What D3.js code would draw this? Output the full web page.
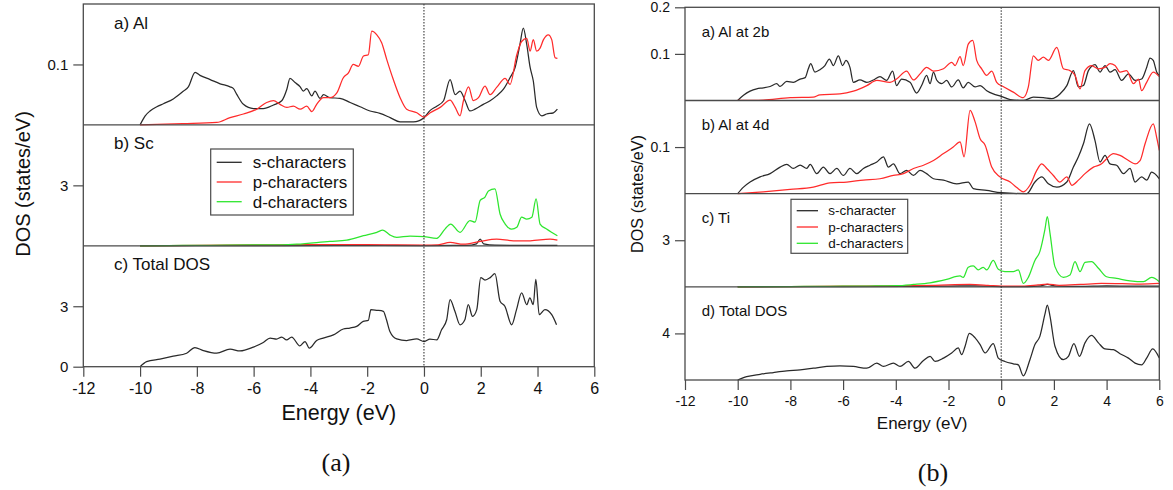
<!DOCTYPE html>
<html><head><meta charset="utf-8">
<script src="https://cdn.jsdelivr.net/npm/d3@7"></script>
<style>
body{margin:0;background:#fff}
svg{display:block}
text{font-family:"Liberation Sans",Arial,Helvetica,sans-serif;fill:#111}
.serif{font-family:"Liberation Serif","Times New Roman",serif}
</style>
</head><body>
<svg id="c" width="1173" height="490"></svg>
<script>
// ---------------- Data: (energy eV, DOS) pairs ----------------
const energyTicks = [-12,-10,-8,-6,-4,-2,0,2,4,6];
const legendLeft  = ["s-characters","p-characters","d-characters"];
const legendRight = ["s-character","p-characters","d-characters"];
const labelsLeft  = ["a) Al","b) Sc","c) Total DOS"];
const labelsRight = ["a) Al at 2b","b) Al at 4d","c) Ti","d) Total DOS"];

// Figure (a)
const aAlS = [[-10,0],[-9.82,0.015],[-9.65,0.023],[-9.41,0.030],[-9.18,0.035],[-8.83,0.043],[-8.47,0.056],[-8.30,0.063],[-8.06,0.087],[-7.89,0.082],[-7.53,0.075],[-7.18,0.068],[-6.83,0.063],[-6.71,0.060],[-6.60,0.051],[-6.36,0.034],[-6.01,0.027],[-5.66,0.027],[-5.30,0.033],[-5.01,0.040],[-4.83,0.059],[-4.72,0.077],[-4.54,0.070],[-4.36,0.063],[-4.25,0.056],[-4.13,0.060],[-3.95,0.048],[-3.84,0.056],[-3.66,0.044],[-3.54,0.050],[-3.31,0.045],[-2.96,0.044],[-2.60,0.037],[-2.25,0.030],[-1.90,0.023],[-1.55,0.019],[-1.19,0.012],[-0.84,0.005],[-0.37,0.005],[0,0.012],[0.22,0.024],[0.45,0.031],[0.69,0.040],[0.92,0.075],[1.10,0.050],[1.27,0.056],[1.45,0.040],[1.62,0.023],[1.80,0.026],[2.09,0.034],[2.33,0.040],[2.56,0.048],[2.80,0.059],[3.03,0.078],[3.21,0.095],[3.38,0.133],[3.50,0.160],[3.62,0.133],[3.74,0.095],[3.85,0.073],[3.97,0.029],[4.15,0.015],[4.32,0.018],[4.56,0.020],[4.70,0.026]];
const aAlP = [[-10,0],[-8.5,0.002],[-7.30,0.004],[-6.83,0.012],[-6.36,0.018],[-5.89,0.026],[-5.54,0.037],[-5.30,0.040],[-5.07,0.034],[-4.83,0.029],[-4.60,0.031],[-4.36,0.026],[-4.13,0.031],[-3.95,0.022],[-3.78,0.034],[-3.54,0.045],[-3.31,0.045],[-3.07,0.053],[-2.84,0.078],[-2.66,0.086],[-2.49,0.100],[-2.31,0.097],[-2.13,0.114],[-1.96,0.116],[-1.84,0.155],[-1.66,0.149],[-1.49,0.136],[-1.31,0.108],[-1.08,0.075],[-0.84,0.045],[-0.61,0.026],[-0.25,0.020],[0,0.013],[0.22,0.020],[0.57,0.029],[0.92,0.041],[1.10,0.029],[1.27,0.015],[1.39,0.040],[1.57,0.063],[1.74,0.040],[1.92,0.045],[2.15,0.064],[2.33,0.050],[2.56,0.062],[2.86,0.077],[3.03,0.067],[3.27,0.116],[3.44,0.138],[3.62,0.143],[3.74,0.122],[3.85,0.141],[3.97,0.122],[4.09,0.127],[4.21,0.141],[4.38,0.149],[4.50,0.141],[4.62,0.111],[4.70,0.110]];
const aScS = [[-10,0],[-6,0.01],[-3,0.02],[0,0.01],[1.5,0.02],[1.85,0.1],[1.98,0.33],[2.1,0.1],[2.5,0.03],[4.7,0.02]];
const aScP = [[-10,0],[-8,0.02],[-6,0.04],[-4,0.06],[-2,0.06],[-1,0.04],[0,0.03],[0.5,0.05],[0.92,0.17],[1.39,0.08],[1.98,0.22],[2.56,0.33],[3.15,0.25],[3.74,0.25],[4.44,0.33],[4.70,0.28]];
const aScD = [[-10,0],[-9,0.01],[-8,0.02],[-7,0.03],[-6,0.04],[-5,0.05],[-4.48,0.08],[-3.31,0.22],[-2.72,0.28],[-2.13,0.50],[-1.66,0.67],[-1.45,0.78],[-1.19,0.53],[-0.96,0.42],[-0.49,0.48],[0,0.45],[0.45,0.37],[0.74,0.83],[0.94,1.08],[1.27,0.67],[1.62,1.25],[1.80,1.17],[1.98,2.25],[2.15,2.42],[2.27,2.72],[2.50,2.83],[2.68,1.58],[2.86,1.08],[3.09,0.83],[3.27,0.92],[3.44,1.42],[3.62,1.33],[3.80,1.42],[3.95,2.33],[4.09,1.08],[4.32,0.83],[4.70,0.50]];
const aTotal = [[-10,0],[-9.77,0.25],[-9.30,0.38],[-8.83,0.52],[-8.36,0.67],[-8.07,0.95],[-7.77,0.80],[-7.30,0.67],[-6.83,0.87],[-6.48,0.78],[-6.01,0.97],[-5.66,1.20],[-5.42,1.42],[-5.19,1.37],[-5.01,1.47],[-4.84,1.33],[-4.66,1.47],[-4.37,1.03],[-4.19,1.25],[-4.04,0.92],[-3.78,1.30],[-3.55,1.42],[-3.19,1.58],[-2.84,1.87],[-2.61,1.92],[-2.37,2.0],[-2.14,2.25],[-1.96,2.30],[-1.87,2.83],[-1.67,2.80],[-1.43,2.75],[-1.32,2.33],[-1.20,1.75],[-0.96,1.38],[-0.61,1.30],[-0.26,1.38],[0.01,1.25],[0.21,1.37],[0.45,1.33],[0.62,1.83],[0.80,2.33],[0.92,3.33],[1.09,2.75],[1.27,2.08],[1.44,2.33],[1.56,3.08],[1.71,2.50],[1.86,2.83],[2.0,4.42],[2.15,4.30],[2.33,4.42],[2.50,4.62],[2.68,3.25],[2.85,3.0],[3.09,2.08],[3.26,2.83],[3.44,3.67],[3.62,3.08],[3.73,3.42],[3.85,3.08],[3.94,4.33],[4.06,2.58],[4.26,2.83],[4.50,2.58],[4.67,2.08]];

// Figure (b)
const bAl2bS = [[-10,0],[-9.78,0.011],[-9.53,0.020],[-9.28,0.025],[-9.03,0.027],[-8.77,0.030],[-8.52,0.036],[-8.39,0.030],[-8.14,0.041],[-7.89,0.039],[-7.63,0.046],[-7.44,0.049],[-7.32,0.068],[-7.23,0.079],[-7.07,0.061],[-6.88,0.066],[-6.69,0.075],[-6.52,0.089],[-6.37,0.075],[-6.18,0.096],[-6.02,0.075],[-5.89,0.086],[-5.74,0.071],[-5.61,0.039],[-5.36,0.044],[-5.10,0.039],[-4.85,0.044],[-4.60,0.051],[-4.35,0.043],[-4.12,0.063],[-3.97,0.032],[-3.78,0.046],[-3.46,0.039],[-3.21,0.016],[-3.02,0.032],[-2.83,0.054],[-2.70,0.036],[-2.57,0.061],[-2.45,0.044],[-2.26,0.036],[-2.07,0.043],[-1.88,0.029],[-1.63,0.044],[-1.44,0.027],[-1.25,0.039],[-0.99,0.029],[-0.80,0.032],[-0.55,0.021],[-0.30,0.014],[0,0.009],[0.34,0.002],[0.84,0],[1.22,0.007],[1.60,0.006],[1.92,0.004],[2.23,0.014],[2.49,0.032],[2.74,0.064],[2.93,0.029],[3.12,0.032],[3.31,0.064],[3.56,0.077],[3.75,0.061],[3.94,0.075],[4.13,0.061],[4.32,0.066],[4.57,0.043],[4.83,0.057],[5.08,0.043],[5.33,0.046],[5.52,0.071],[5.65,0.091],[5.77,0.086],[5.90,0.061],[6.0,0.054]];
const bAl2bP = [[-10,0],[-9.03,0.001],[-8.01,0.006],[-7.13,0.007],[-6.88,0.012],[-6.12,0.014],[-5.61,0.020],[-5.10,0.032],[-4.72,0.043],[-4.22,0.039],[-3.97,0.046],[-3.59,0.063],[-3.33,0.044],[-3.08,0.057],[-2.83,0.071],[-2.57,0.063],[-2.19,0.068],[-1.88,0.082],[-1.75,0.075],[-1.56,0.094],[-1.44,0.075],[-1.25,0.121],[-1.08,0.129],[-0.93,0.086],[-0.74,0.068],[-0.55,0.054],[-0.36,0.063],[-0.17,0.039],[0.07,0.030],[0.46,0.018],[0.84,0.006],[1.03,0.029],[1.22,0.096],[1.41,0.086],[1.60,0.093],[1.79,0.086],[2.11,0.114],[2.36,0.068],[2.61,0.064],[2.80,0.054],[2.99,0.025],[3.18,0.064],[3.43,0.075],[3.69,0.068],[3.94,0.071],[4.13,0.079],[4.32,0.075],[4.51,0.061],[4.76,0.064],[5.02,0.036],[5.21,0.046],[5.33,0.021],[5.52,0.039],[5.77,0.061],[6.0,0.051]];
const bAl4dS = [[-10,0],[-9.78,0.014],[-9.53,0.025],[-9.15,0.036],[-8.77,0.043],[-8.39,0.057],[-8.14,0.063],[-7.89,0.054],[-7.63,0.061],[-7.38,0.054],[-7.25,0.063],[-7.00,0.043],[-6.75,0.057],[-6.50,0.043],[-6.24,0.054],[-5.99,0.039],[-5.74,0.054],[-5.48,0.043],[-5.23,0.054],[-4.98,0.061],[-4.72,0.068],[-4.47,0.079],[-4.28,0.057],[-4.09,0.064],[-3.84,0.043],[-3.59,0.050],[-3.33,0.039],[-3.08,0.050],[-2.83,0.043],[-2.57,0.032],[-2.19,0.029],[-1.69,0.021],[-1.25,0.025],[-1.06,0.011],[-0.55,0.007],[0,0.002],[0.97,0],[1.28,0.025],[1.54,0.036],[1.79,0.021],[2.11,0.014],[2.49,0.025],[2.74,0.057],[2.93,0.079],[3.12,0.107],[3.35,0.150],[3.56,0.114],[3.75,0.068],[3.94,0.082],[4.13,0.064],[4.38,0.061],[4.64,0.043],[4.89,0.054],[5.08,0.025],[5.33,0.036],[5.52,0.029],[5.71,0.046],[6.0,0.032]];
const bAl4dP = [[-10,0],[-9.03,0.004],[-8.01,0.009],[-7.13,0.014],[-6.50,0.023],[-5.86,0.025],[-5.23,0.029],[-4.60,0.032],[-4.09,0.039],[-3.71,0.043],[-3.33,0.054],[-2.95,0.061],[-2.57,0.071],[-2.19,0.086],[-1.82,0.100],[-1.56,0.111],[-1.41,0.079],[-1.18,0.179],[-0.99,0.154],[-0.80,0.118],[-0.61,0.104],[-0.36,0.057],[-0.05,0.036],[0.34,0.025],[0.59,0.013],[0.84,0.004],[1.09,0.018],[1.35,0.050],[1.54,0.064],[1.73,0.054],[1.98,0.039],[2.23,0.025],[2.49,0.036],[2.68,0.018],[2.93,0.029],[3.18,0.043],[3.50,0.057],[3.81,0.064],[4.00,0.075],[4.26,0.086],[4.51,0.082],[4.83,0.071],[5.08,0.064],[5.27,0.071],[5.46,0.107],[5.77,0.150],[5.90,0.121],[6.0,0.093]];
const bTiS = [[-10,0],[-6,0.02],[-2,0.05],[-1,0.06],[0,0.02],[1,0.02],[1.5,0.06],[1.75,0.15],[2.1,0.05],[3,0.03],[4,0.06],[5,0.04],[6,0.05]];
const bTiP = [[-10,0],[-8,0.02],[-6,0.04],[-4,0.06],[-2.5,0.1],[-1.2,0.15],[-0.5,0.1],[0,0.05],[0.8,0.05],[1.4,0.12],[1.75,0.17],[2.2,0.1],[3,0.15],[3.8,0.22],[4.6,0.2],[5.3,0.18],[6,0.22]];
const bTiD = [[-10,0],[-9,0.01],[-8,0.02],[-7,0.03],[-6,0.04],[-5,0.05],[-4.5,0.06],[-3.97,0.07],[-3.33,0.15],[-2.70,0.26],[-2.07,0.48],[-1.56,0.70],[-1.44,0.61],[-1.25,1.26],[-1.06,1.35],[-0.87,1.09],[-0.68,1.26],[-0.55,1.09],[-0.30,1.70],[-0.11,1.13],[0.14,0.98],[0.46,0.98],[0.65,1.09],[0.84,0.22],[1.03,0.61],[1.28,1.70],[1.47,2.28],[1.66,3.70],[1.75,4.52],[1.85,3.48],[2.04,1.30],[2.36,0.61],[2.61,0.76],[2.80,1.63],[2.99,0.98],[3.18,1.57],[3.43,1.63],[3.69,1.20],[4.00,0.65],[4.38,0.54],[4.89,0.39],[5.40,0.33],[5.71,0.61],[6.0,0.33]];
const bTotal = [[-10,0],[-9.66,0.29],[-9.15,0.49],[-8.65,0.64],[-8.14,0.78],[-7.63,0.87],[-7.13,1.01],[-6.62,1.16],[-6.12,1.22],[-5.61,1.16],[-5.10,1.01],[-4.72,1.45],[-4.47,1.16],[-4.09,1.45],[-3.84,1.16],[-3.52,1.59],[-3.27,1.01],[-2.95,1.68],[-2.70,2.03],[-2.51,1.59],[-2.19,1.88],[-1.88,2.32],[-1.63,2.75],[-1.50,2.17],[-1.37,2.90],[-1.21,4.0],[-0.99,3.62],[-0.80,3.04],[-0.61,2.32],[-0.30,3.13],[-0.11,1.88],[0.14,1.59],[0.46,1.39],[0.65,1.30],[0.84,0.35],[1.09,1.74],[1.28,3.04],[1.47,3.77],[1.66,5.65],[1.75,6.43],[1.85,5.51],[2.04,2.90],[2.36,1.74],[2.55,2.03],[2.76,3.13],[2.97,2.03],[3.18,3.19],[3.43,3.83],[3.69,3.19],[3.94,2.67],[4.26,2.61],[4.51,2.26],[4.83,1.88],[5.08,1.45],[5.33,1.30],[5.52,1.88],[5.75,2.67],[6.0,1.88]];

// ---------------- Drawing ----------------
const COL = {s:"#2a2a2a", p:"#ff2b2b", d:"#2ee62e"};
const FRAME = "#4a4a4a";
const svg = d3.select("#c");

function drawFigure(f){
  const g = svg.append("g");
  const x = d3.scaleLinear().domain([-12,6]).range([f.left,f.right]);
  const ph = (f.bottom - f.top)/f.panels.length;
  const line = d3.line().curve(d3.curveMonotoneX);

  f.panels.forEach((p,i)=>{
    const y0 = f.top + i*ph, y1 = y0 + ph;
    const y = d3.scaleLinear().domain(p.domain).range([y1,y0]);
    line.x(d=>x(d[0])).y(d=>y(d[1]));
    p.series.forEach(s=>{
      g.append("path").datum(s.data).attr("d",line)
        .attr("fill","none").attr("stroke",s.color).attr("stroke-width",1.25)
        .attr("stroke-linejoin","round");
    });
    const ay = g.append("g").attr("transform",`translate(${f.left},0)`)
      .call(d3.axisLeft(y).tickValues(p.ticks).tickSize(f.tickLen).tickPadding(f.tickPad).tickFormat(d=>String(d)));
    ay.select(".domain").remove();
    ay.selectAll("line").attr("stroke",FRAME).attr("stroke-width",1.2);
    ay.selectAll("text").style("font-size",f.tickFont+"px").attr("fill","#111");
    // panel label
    g.append("text").attr("x",f.labelX).attr("y",y0 + f.labelDy)
      .style("font-size",f.labelFont+"px").text(p.label);
    // panel divider
    if(i>0) g.append("line").attr("x1",f.left).attr("x2",f.right).attr("y1",y0).attr("y2",y0)
      .attr("stroke",FRAME).attr("stroke-width",1.3);
  });

  // Fermi level dotted line
  g.append("line").attr("x1",x(0)).attr("x2",x(0)).attr("y1",f.top).attr("y2",f.bottom)
    .attr("stroke","#222").attr("stroke-width",1).attr("stroke-dasharray","1.5,1.5");

  // frame
  g.append("rect").attr("x",f.left).attr("y",f.top).attr("width",f.right-f.left).attr("height",f.bottom-f.top)
    .attr("fill","none").attr("stroke",FRAME).attr("stroke-width",1.3);

  // x axis
  const ax = g.append("g").attr("transform",`translate(0,${f.bottom})`)
    .call(d3.axisBottom(x).tickValues(energyTicks).tickSize(f.tickLen).tickPadding(f.xPad).tickFormat(d=>String(d)));
  ax.select(".domain").remove();
  ax.selectAll("line").attr("stroke",FRAME).attr("stroke-width",1.2);
  ax.selectAll("text").style("font-size",f.xFont+"px").attr("fill","#111");

  g.append("text").attr("x",(f.left+f.right)/2).attr("y",f.xTitleY).attr("text-anchor","middle")
    .style("font-size",f.titleFont+"px").text("Energy (eV)");
  g.append("text").attr("transform",`translate(${f.yTitleX},${f.yTitleY}) rotate(-90)`).attr("text-anchor","middle")
    .style("font-size",f.yTitleFont+"px").text("DOS (states/eV)");

  // legend
  const L = f.legend;
  g.append("rect").attr("x",L.x).attr("y",L.y).attr("width",L.w).attr("height",L.h)
    .attr("fill","#fff").attr("stroke",FRAME).attr("stroke-width",1.2);
  L.items.forEach((t,k)=>{
    const yy = L.y + L.first + k*L.step;
    g.append("line").attr("x1",L.x+L.l0).attr("x2",L.x+L.l1).attr("y1",yy).attr("y2",yy)
      .attr("stroke",[COL.s,COL.p,COL.d][k]).attr("stroke-width",1.3);
    g.append("text").attr("x",L.x+L.tx).attr("y",yy).attr("dy","0.35em")
      .style("font-size",L.font+"px").text(t);
  });

  g.append("text").attr("class","serif").attr("x",f.capX).attr("y",f.capY).attr("text-anchor","middle")
    .style("font-size","26px").text(f.caption);
}

drawFigure({
  left:83.3, right:594.3, top:4, bottom:366.7,
  tickLen:10, tickPad:5, tickFont:15, xFont:16, xPad:6,
  labelX:114, labelDy:24.5, labelFont:17,
  titleFont:21.5, xTitleY:420, yTitleX:30, yTitleY:184, yTitleFont:20,
  caption:"(a)", capX:336, capY:471,
  legend:{x:210.7,y:149,w:142.6,h:66,first:13.3,step:19.7,l0:6,l1:31,tx:42,font:17,items:legendLeft},
  panels:[
    {label:labelsLeft[0], domain:[0,0.2], ticks:[0.1], series:[{data:aAlS,color:COL.s},{data:aAlP,color:COL.p}]},
    {label:labelsLeft[1], domain:[0,6], ticks:[3], series:[{data:aScS,color:COL.s},{data:aScP,color:COL.p},{data:aScD,color:COL.d}]},
    {label:labelsLeft[2], domain:[0,6], ticks:[0,3], series:[{data:aTotal,color:COL.s}]}
  ]
});

drawFigure({
  left:685, right:1159.3, top:7.3, bottom:380,
  tickLen:10, tickPad:5, tickFont:14, xFont:14, xPad:6,
  labelX:701.7, labelDy:29.5, labelFont:15,
  titleFont:17, xTitleY:428.5, yTitleX:643, yTitleY:194, yTitleFont:16.2,
  caption:"(b)", capX:933, capY:481,
  legend:{x:791,y:199.3,w:116.7,h:54,first:11.4,step:16.3,l0:5.7,l1:27,tx:37.3,font:13.5,items:legendRight},
  panels:[
    {label:labelsRight[0], domain:[0,0.2], ticks:[0.1,0.2], series:[{data:bAl2bS,color:COL.s},{data:bAl2bP,color:COL.p}]},
    {label:labelsRight[1], domain:[0,0.2], ticks:[0.1], series:[{data:bAl4dS,color:COL.s},{data:bAl4dP,color:COL.p}]},
    {label:labelsRight[2], domain:[0,6], ticks:[3], series:[{data:bTiS,color:COL.s},{data:bTiP,color:COL.p},{data:bTiD,color:COL.d}]},
    {label:labelsRight[3], domain:[0,8], ticks:[4], series:[{data:bTotal,color:COL.s}]}
  ]
});
</script>
</body></html>
